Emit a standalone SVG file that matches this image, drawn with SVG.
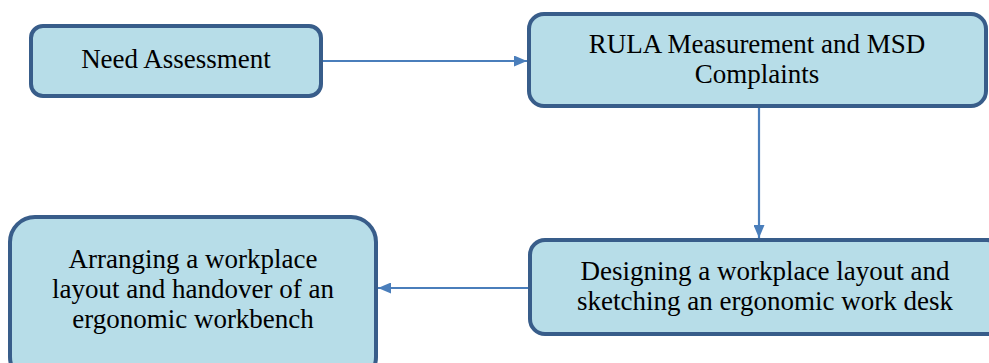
<svg xmlns="http://www.w3.org/2000/svg" width="989" height="363" viewBox="0 0 989 363">
<style>
.box{fill:#b7dde8;stroke:#385d8a;stroke-width:4}
.lbl{font-family:"Liberation Serif","Times New Roman",serif;font-size:27px;fill:#000;text-anchor:middle}
.conn{stroke:#4a7ebb;stroke-width:2.2;fill:none}
</style>
<defs>
<marker id="ah" viewBox="0 0 13 11" refX="13" refY="5.5" markerWidth="13" markerHeight="11" markerUnits="userSpaceOnUse" orient="auto">
<path d="M0,0 L13,5.5 L0,11 Z" fill="#4a7ebb"/>
</marker>
</defs>
<rect width="989" height="363" fill="#fff"/>
<g id="connectors">
<line class="conn" x1="323" y1="61" x2="527" y2="61" marker-end="url(#ah)"/>
<line class="conn" x1="759" y1="108" x2="759" y2="238" marker-end="url(#ah)"/>
<line class="conn" x1="528" y1="288" x2="378" y2="288" marker-end="url(#ah)"/>
</g>
<g id="need-assessment">
<rect class="box" x="31" y="26" width="290" height="70" rx="12"/>
<text class="lbl" x="176" y="68">Need Assessment</text>
</g>
<g id="rula">
<rect class="box" x="529" y="14" width="457" height="92" rx="15"/>
<text class="lbl" x="757" y="53">RULA Measurement and MSD</text>
<text class="lbl" x="757" y="83">Complaints</text>
</g>
<g id="designing">
<rect class="box" x="530" y="240" width="472" height="94" rx="15"/>
<text class="lbl" x="765" y="280">Designing a workplace layout and</text>
<text class="lbl" x="765" y="310">sketching an ergonomic work desk</text>
</g>
<g id="arranging">
<rect class="box" x="10" y="217" width="366" height="165" rx="25"/>
<text class="lbl" x="193" y="268">Arranging a workplace</text>
<text class="lbl" x="193" y="298">layout and handover of an</text>
<text class="lbl" x="193" y="328">ergonomic workbench</text>
</g>
</svg>
